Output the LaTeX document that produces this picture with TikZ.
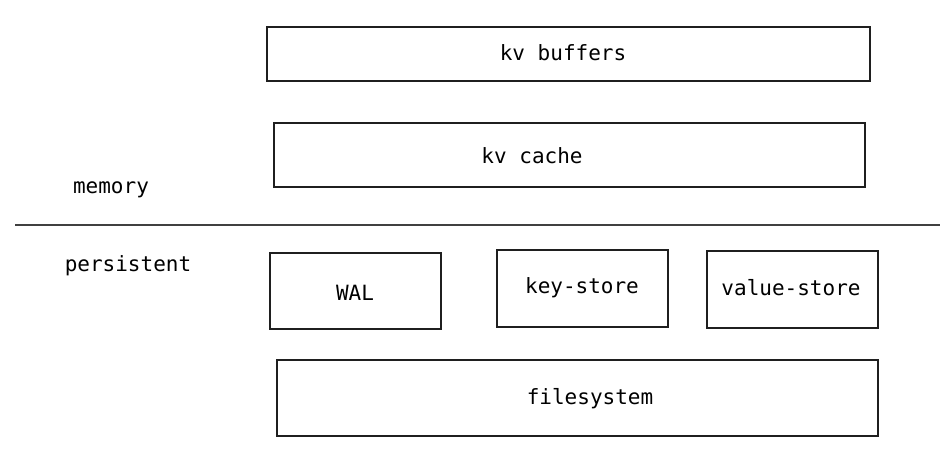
\documentclass[tikz,border=0pt]{standalone}
\usepackage{fontspec}
\setmonofont{DejaVu Sans Mono}
\begin{document}
\begin{tikzpicture}[x=1pt,y=-1pt,
  box/.style={draw=black!88,line width=1.1pt,rectangle,inner sep=0pt},
  lbl/.style={font=\ttfamily\fontsize{21}{25}\selectfont,text=black,inner sep=0pt,anchor=center},
  sep/.style={draw=black!75,line width=1.2pt}]
\useasboundingbox (0,0) rectangle (950,462);
% boxes
\node[box,minimum width=603pt,minimum height=54pt] (buf) at (568.5,54) {};
\node[box,minimum width=591pt,minimum height=64pt] (cache) at (569.5,155) {};
\node[box,minimum width=171pt,minimum height=76pt] (wal) at (355.5,291) {};
\node[box,minimum width=171pt,minimum height=77pt] (key) at (582.5,288.5) {};
\node[box,minimum width=171pt,minimum height=77pt] (val) at (792.5,289.5) {};
\node[box,minimum width=601pt,minimum height=76pt] (fs) at (577.5,398) {};
% labels
\node[lbl] (tbuf) at (563,53) {kv buffers};
\node[lbl] (tcache) at (532,156) {kv cache};
\node[lbl] (twal) at (355,293) {WAL};
\node[lbl] (tkey) at (582,288) {key-store};
\node[lbl] (tval) at (791,288) {value-store};
\node[lbl] (tfs) at (590,399) {filesystem};
\node[lbl] (tmem) at (111,190) {memory};
\node[lbl] (tper) at (128,266) {persistent};
% divider
\coordinate (l1) at (15,225);
\coordinate (l2) at (940,225);
\draw[sep] (l1) -- (l2);
\end{tikzpicture}
\end{document}
